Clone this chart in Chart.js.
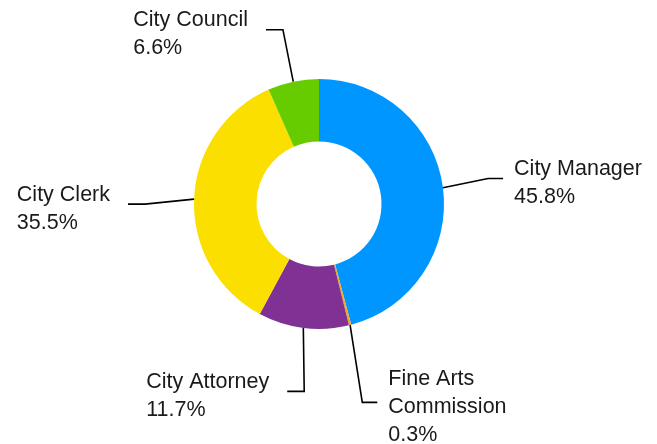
<!DOCTYPE html>
<html>
<head>
<meta charset="utf-8">
<script src="https://cdn.jsdelivr.net/npm/chart.js@4"></script>
<style>
  html, body { margin: 0; padding: 0; background: #fff; }
  #myChart { display: block; }
</style>
</head>
<body>
<canvas id="myChart" width="657" height="444"></canvas>
<script>
// data
const categories = ['City Manager', 'Fine Arts Commission', 'City Attorney', 'City Clerk', 'City Council'];
const labelLines = [['City Manager'], ['Fine Arts', 'Commission'], ['City Attorney'], ['City Clerk'], ['City Council']];
const shares = [45.8, 0.3, 11.7, 35.5, 6.6];
const colors = ['#0096ff', '#f5a623', '#7f3294', '#fadf00', '#66cc00'];

// draws the elbow lines and the two/three line labels beside each slice
const leaderLabels = {
    id: 'leaderLabels',
    afterDatasetsDraw(chart, args, opts) {
        const ctx = chart.ctx;
        const meta = chart.getDatasetMeta(0);
        const lineH = 28;
        ctx.save();
        ctx.font = '21.5px "Liberation Sans", Arial, sans-serif';
        ctx.fillStyle = '#1a1a1a';
        ctx.strokeStyle = '#000';
        ctx.lineWidth = 1.6;
        meta.data.forEach((arc, i) => {
            const p = arc.getProps(['x', 'y', 'startAngle', 'endAngle', 'outerRadius'], true);
            const mid = (p.startAngle + p.endAngle) / 2;
            const turn = mid + opts.leaderTurn[i] * Math.PI / 180; // labels get pushed a bit
            const r0 = p.outerRadius;
            const r1 = p.outerRadius + opts.leaderLength[i];
            const x0 = p.x + Math.cos(mid) * r0, y0 = p.y + Math.sin(mid) * r0;
            const x1 = p.x + Math.cos(turn) * r1, y1 = p.y + Math.sin(turn) * r1;
            const right = Math.cos(mid) >= 0;
            const x2 = x1 + (right ? 15 : -17);
            ctx.beginPath();
            ctx.moveTo(x0, y0);
            ctx.lineTo(x1, y1);
            ctx.lineTo(x2, y1);
            ctx.stroke();

            const lines = labelLines[i].concat([shares[i].toFixed(1) + '%']);
            const n = lines.length;
            // widest line decides where a left-side block starts
            const w = Math.max(...lines.map((t) => ctx.measureText(t).width));
            const tx = right ? x2 + 11 : x2 - 18 - w;
            ctx.textAlign = 'left';
            ctx.textBaseline = 'alphabetic';
            lines.forEach((t, k) => {
                const base = y1 + 3 - ((n - 1) * lineH) / 2 + k * lineH + 7.5;
                ctx.fillText(t, tx, base);
            });
        });
        ctx.restore();
    }
};

const config = {
    type: 'doughnut',
    data: {
        labels: categories,
        datasets: [{
            data: shares,
            backgroundColor: colors,
            borderWidth: 0
        }]
    },
    options: {
        responsive: false,
        animation: false,
        cutout: '50%',
        layout: {
            padding: { top: 79, bottom: 115, left: 194, right: 213 }
        },
        plugins: {
            legend: { display: false },
            tooltip: { enabled: false },
            leaderLabels: {
                leaderLength: [46, 78, 63, 49, 53],
                leaderTurn: [-1.1, 2.1, -2.7, -2.3, 0.2]
            }
        }
    },
    plugins: [leaderLabels]
};

const myChart = new Chart(document.getElementById('myChart'), config);
</script>
</body>
</html>
